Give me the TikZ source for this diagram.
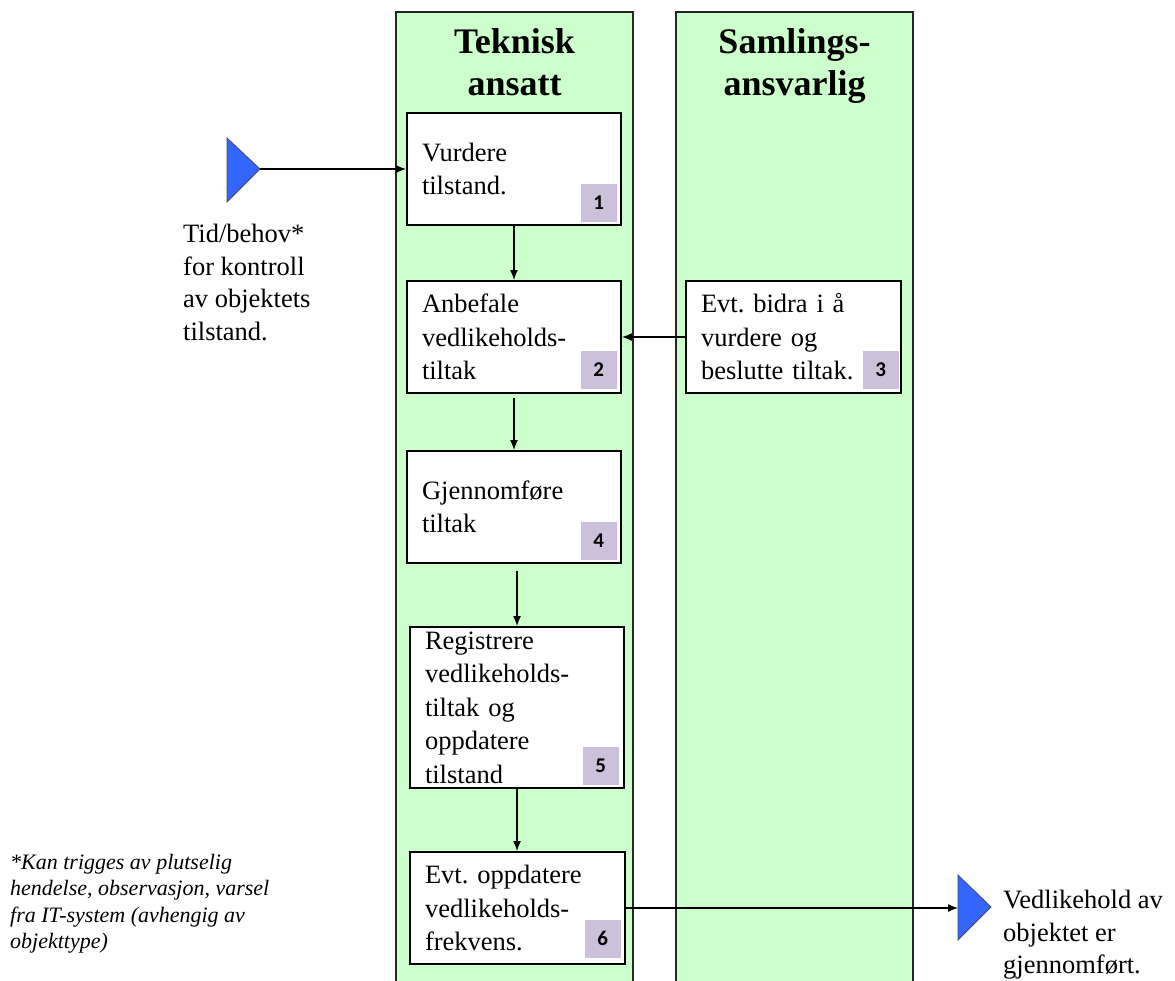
\documentclass[tikz,border=0pt]{standalone}
\usepackage{fontspec}
\setmainfont{Liberation Serif}
\newfontfamily\badgefont{Carlito}
\usetikzlibrary{arrows.meta}
\frenchspacing
\definecolor{lane_green}{HTML}{CCFFCC}
\definecolor{badge_lilac}{HTML}{CCC1DA}
\definecolor{marker_blue}{HTML}{3366FF}
\tikzset{
  lane/.style={draw=black!85, fill=lane_green, line width=1.5pt},
  lanehead/.style={font=\fontsize{36}{42}\selectfont\bfseries, align=center, anchor=north, inner sep=0pt},
  stepbox/.style={draw, fill=white, line width=2pt, minimum width=214pt, minimum height=112pt,
    text width=184pt, inner xsep=15pt, align=left, font=\fontsize{26.5}{33.5}\selectfont},
  badge/.style={fill=badge_lilac, minimum width=36pt, minimum height=38pt, inner sep=0pt,
    anchor=south east, font=\badgefont\bfseries\fontsize{21}{21}\selectfont},
  flow/.style={-{Latex[length=10pt,width=8pt]}, line width=1.3pt},
  marker/.style={draw=black!70, fill=marker_blue, line width=0.8pt},
  note/.style={align=left, anchor=north west, inner sep=0pt, font=\fontsize{26.5}{32.5}\selectfont}
}
\begin{document}
\begin{tikzpicture}[x=1pt, y=-1pt]

\useasboundingbox (0,0) rectangle (1175,980);
\clip (0,0) rectangle (1175,980);

% Draw the two swimlanes
\draw[lane] (396,12) rectangle (633,1000);
\draw[lane] (676,12) rectangle (913,1000);
\node[lanehead] (head tek) at (514.5,28) {Teknisk\\ansatt};
\node[lanehead] (head saml) at (794.5,28) {Samlings-\\ansvarlig};

% Draw the steps
\node[stepbox] (b1) at (514,169) {Vurdere\\tilstand.};
\node[stepbox] (b2) at (514,337) {Anbefale\\vedlikeholds-\\tiltak};
\node[stepbox, minimum width=215pt, text width=185pt] (b3) at (793.5,337) {Evt. bidra i å\\vurdere og\\beslutte tiltak.};
\node[stepbox] (b4) at (514,507) {Gjennomføre\\tiltak};
\node[stepbox, minimum height=161pt, inner ysep=1pt] (b5) at (517,707.5) {Registrere\\vedlikeholds-\\tiltak og\\oppdatere\\tilstand};
\node[stepbox, minimum width=215pt, text width=185pt] (b6) at (517.5,908) {Evt. oppdatere\\vedlikeholds-\\frekvens.};

% Number badges in the corners
\node[badge] (n1) at ([xshift=-5pt,yshift=4pt]b1.south east) {1};
\node[badge] (n2) at ([xshift=-5pt,yshift=5pt]b2.south east) {2};
\node[badge] (n3) at ([xshift=-3pt,yshift=5pt]b3.south east) {3};
\node[badge] (n4) at ([xshift=-5pt,yshift=4pt]b4.south east) {4};
\node[badge] (n5) at ([xshift=-6pt,yshift=4pt]b5.south east) {5};
\node[badge] (n6) at ([xshift=-5pt,yshift=7pt]b6.south east) {6};

% Draw the start and end markers
\coordinate (start tip) at (260,169);
\draw[marker] (227,138) -- (start tip) -- (227,202) -- cycle;
\coordinate (end tail) at (958,907);
\draw[marker] (958,875) -- (991,907) -- (958,940) -- cycle;
\node[note] (start label) at (183,224) {Tid/behov*\\for kontroll\\av objektets\\tilstand.};
\node[note] (end label) at (1003,890) {Vedlikehold av\\objektet er\\gjennomført.};
\node[note, font=\fontsize{22}{26.5}\selectfont\itshape] (footnote) at (10,854) {*Kan trigges av plutselig\\hendelse, observasjon, varsel\\fra IT-system (avhengig av\\objekttype)};

% Draw the connectors
\draw[flow] (start tip) -- (b1.west);
\draw[flow] (b1.south) -- (b2.north);
\draw[flow] ([yshift=-4pt]b2.south) -- (b4.north);
\draw[flow] ([yshift=-7pt]b4.south -| b5.north) -- (b5.north);
\draw[flow] (b5.south) -- (b5.south |- b6.north);
\draw[flow] (b3.west) -- (b2.east);
\draw[flow] (b6.east) -- (b6.east -| end tail);

\end{tikzpicture}
\end{document}
